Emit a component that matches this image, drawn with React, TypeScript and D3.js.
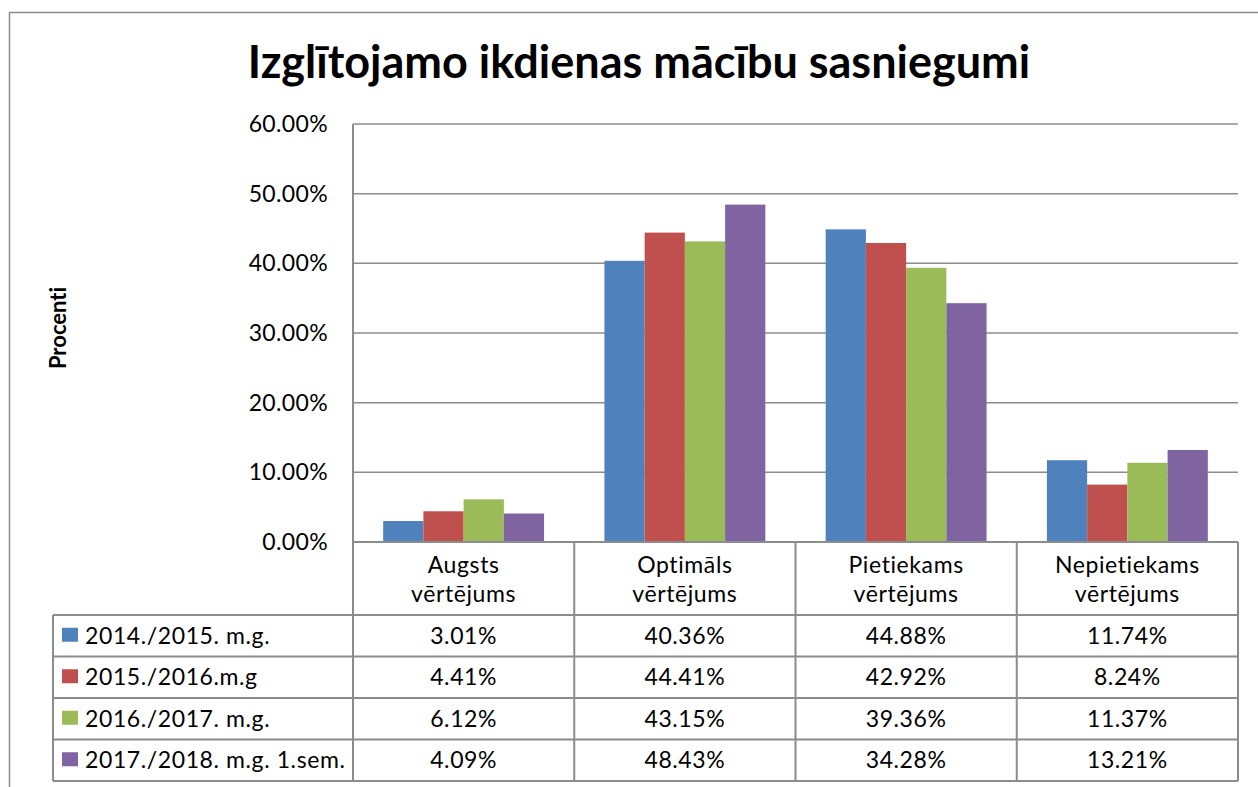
import React from "react";
import * as d3 from "d3";

const categories = [["Augsts", "vērtējums"], ["Optimāls", "vērtējums"], ["Pietiekams", "vērtējums"], ["Nepietiekams", "vērtējums"]];
const seriesNames = ["2014./2015. m.g.", "2015./2016.m.g", "2016./2017. m.g.", "2017./2018. m.g. 1.sem."];
const seriesColors = ["#4F81BD", "#C0504D", "#9BBB59", "#8064A2"];
const values2014 = [3.01, 40.36, 44.88, 11.74];
const values2015 = [4.41, 44.41, 42.92, 8.24];
const values2016 = [6.12, 43.15, 39.36, 11.37];
const values2017 = [4.09, 48.43, 34.28, 13.21];
const seriesValues = [values2014, values2015, values2016, values2017];
const yTicks = [0, 10, 20, 30, 40, 50, 60];

const W = 1258, H = 787;
const plotL = 353, plotR = 1238, plotT = 124, plotB = 542;
const tableTop = 542, headerBottom = 615, rowH = 41.5, legendL = 53;
const FONT = "Lato, 'Open Sans', sans-serif";
const GRID = "#8c8c8c";
const TXT = 23;
const LS = 0.6;

export default function App() {
  const x = d3.scaleBand<number>().domain(d3.range(categories.length)).range([plotL, plotR]);
  const bw = x.bandwidth();
  const xi = d3.scaleBand<number>().domain(d3.range(seriesNames.length)).range([0, bw]).paddingOuter(0.75).paddingInner(0);
  const y = d3.scaleLinear().domain([0, 60]).range([plotB, plotT]);
  const tableBottom = headerBottom + rowH * seriesNames.length;
  const colLines = d3.range(categories.length + 1).map((i) => (i < categories.length ? (x(i) as number) : plotR));

  return (
    <svg width={W} height={H} style={{ position: "absolute", left: 0, top: 0, background: "#fff", fontVariantLigatures: "none" }} fontFamily={FONT}>
      <rect x={9.5} y={12.5} width={W + 20} height={H + 20} fill="#fff" stroke={GRID} strokeWidth={1.5} />
      <text x={639} y={78} textAnchor="middle" fontSize={45} fontWeight="bold" fill="#000">
        Izglītojamo ikdienas mācību sasniegumi
      </text>
      <text transform={`translate(66,328) rotate(-90)`} textAnchor="middle" fontSize={22} fontWeight="bold">
        Procenti
      </text>
      {yTicks.map((t) => (
        <g key={t}>
          {t > 0 && <line x1={plotL} x2={plotR} y1={y(t)} y2={y(t)} stroke={GRID} strokeWidth={1.5} />}
          <text x={328} y={y(t)} dy="0.35em" textAnchor="end" fontSize={TXT} letterSpacing={0.35}>
            {t.toFixed(2) + "%"}
          </text>
        </g>
      ))}
      {seriesValues.map((vals, s) =>
        vals.map((v, c) => (
          <rect
            key={`${s}-${c}`}
            x={(x(c) as number) + (xi(s) as number)}
            y={y(v)}
            width={xi.bandwidth()}
            height={plotB - y(v)}
            fill={seriesColors[s]}
          />
        ))
      )}
      {/* table */}
      <line x1={plotL} x2={plotR} y1={tableTop} y2={tableTop} stroke={GRID} strokeWidth={2} />
      <line x1={plotL} x2={plotL} y1={plotT} y2={tableBottom} stroke={GRID} strokeWidth={2} />
      {colLines.slice(1).map((cx, i) => (
        <line key={i} x1={cx} x2={cx} y1={tableTop} y2={tableBottom} stroke={GRID} strokeWidth={2} />
      ))}
      <line x1={legendL} x2={legendL} y1={headerBottom} y2={tableBottom} stroke={GRID} strokeWidth={2} />
      {d3.range(seriesNames.length + 1).map((r) => (
        <line key={r} x1={legendL} x2={plotR} y1={headerBottom + r * rowH} y2={headerBottom + r * rowH} stroke={GRID} strokeWidth={2} />
      ))}
      {categories.map((lines, c) => (
        <text key={c} x={(x(c) as number) + bw / 2} textAnchor="middle" fontSize={TXT} letterSpacing={LS}>
          <tspan x={(x(c) as number) + bw / 2} y={573}>{lines[0]}</tspan>
          <tspan x={(x(c) as number) + bw / 2} y={602}>{lines[1]}</tspan>
        </text>
      ))}
      {seriesNames.map((name, s) => {
        const cy = headerBottom + s * rowH + rowH / 2;
        return (
          <g key={s}>
            <rect x={62} y={cy - 8} width={16} height={14} fill={seriesColors[s]} />
            <text x={85} y={cy} dy="0.35em" fontSize={TXT} letterSpacing={LS}>{name}</text>
            {seriesValues[s].map((v, c) => (
              <text key={c} x={(x(c) as number) + bw / 2} y={cy} dy="0.35em" textAnchor="middle" fontSize={TXT} letterSpacing={LS}>
                {v.toFixed(2) + "%"}
              </text>
            ))}
          </g>
        );
      })}
    </svg>
  );
}
